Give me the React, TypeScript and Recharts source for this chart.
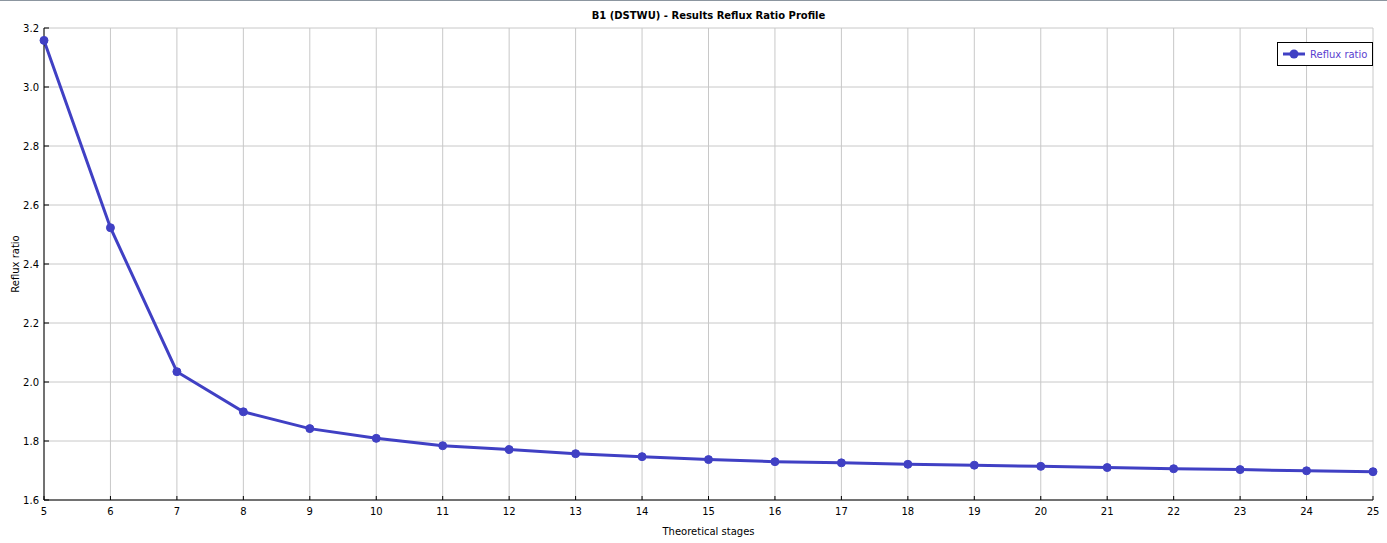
import React from 'react';
import { LineChart, Line, XAxis, YAxis, CartesianGrid } from 'recharts';

const stages = [5, 6, 7, 8, 9, 10, 11, 12, 13, 14, 15, 16, 17, 18, 19, 20, 21, 22, 23, 24, 25];
const refluxRatio = [3.158, 2.523, 2.035, 1.899, 1.842, 1.809, 1.784, 1.771, 1.757, 1.747, 1.737, 1.730, 1.726, 1.721, 1.718, 1.714, 1.710, 1.706, 1.703, 1.699, 1.696];
const xTicks = [5, 6, 7, 8, 9, 10, 11, 12, 13, 14, 15, 16, 17, 18, 19, 20, 21, 22, 23, 24, 25];
const yTicks = [1.6, 1.8, 2.0, 2.2, 2.4, 2.6, 2.8, 3.0, 3.2];
const seriesName = 'Reflux ratio';

const data = stages.map((s, i) => ({ stage: s, reflux: refluxRatio[i] }));

const FONT = 'DejaVu Sans, Verdana, sans-serif';
const LINE_COLOR = '#4040c4';

const LegendBox = () => (
  <div
    style={{
      position: 'absolute',
      left: 1277,
      top: 42,
      border: '1px solid #000',
      background: '#fff',
      width: 94,
      height: 22,
      display: 'flex',
      alignItems: 'center',
      fontFamily: FONT,
      fontSize: 10,
      color: '#5a3fd0',
    }}
  >
    <svg width={32} height={22}>
      <line x1={5} y1={11} x2={27} y2={11} stroke={LINE_COLOR} strokeWidth={3} />
      <circle cx={16} cy={11} r={4.5} fill={LINE_COLOR} />
    </svg>
    <span>{seriesName}</span>
  </div>
);

export default function App() {
  return (
    <div style={{ position: 'absolute', left: 0, top: 0, width: 1387, height: 543, background: '#fff' }}>
      <div style={{ position: 'absolute', left: 0, top: 0, width: 1387, height: 1, background: '#8c96a0' }} />
      <LineChart width={1387} height={543} data={data} margin={{ top: 28, right: 14, left: 0, bottom: 0 }}>
        <CartesianGrid stroke="#c8c8c8" strokeWidth={1} />
        <XAxis
          dataKey="stage"
          type="number"
          domain={[5, 25]}
          ticks={xTicks}
          interval={0}
          height={43}
          stroke="#000"
          tickSize={-4}
          tickMargin={12}
          tick={{ fill: '#000', fontSize: 10, fontFamily: FONT }}
          label={{ value: 'Theoretical stages', position: 'insideBottom', offset: 8, fill: '#000', fontSize: 10, fontFamily: FONT }}
        />
        <YAxis
          type="number"
          domain={[1.6, 3.2]}
          ticks={yTicks}
          interval={0}
          width={44}
          stroke="#000"
          tickSize={-5}
          tickMargin={10}
          tickFormatter={(v: number) => v.toFixed(1)}
          tick={{ fill: '#000', fontSize: 10, fontFamily: FONT }}
          label={{ value: 'Reflux ratio', angle: -90, position: 'insideLeft', offset: 15, fill: '#000', fontSize: 10, fontFamily: FONT, style: { textAnchor: 'middle' } }}
        />
        <Line
          type="linear"
          dataKey="reflux"
          name={seriesName}
          stroke={LINE_COLOR}
          strokeWidth={3}
          dot={{ r: 4, fill: LINE_COLOR, stroke: LINE_COLOR, strokeWidth: 1 }}
          activeDot={false}
          isAnimationActive={false}
        />
      </LineChart>
      <div
        style={{
          position: 'absolute',
          left: 44,
          width: 1329,
          top: 10,
          textAlign: 'center',
          fontFamily: FONT,
          fontWeight: 'bold',
          fontSize: 10,
          color: '#000',
        }}
      >
        B1 (DSTWU) - Results Reflux Ratio Profile
      </div>
      <LegendBox />
    </div>
  );
}
